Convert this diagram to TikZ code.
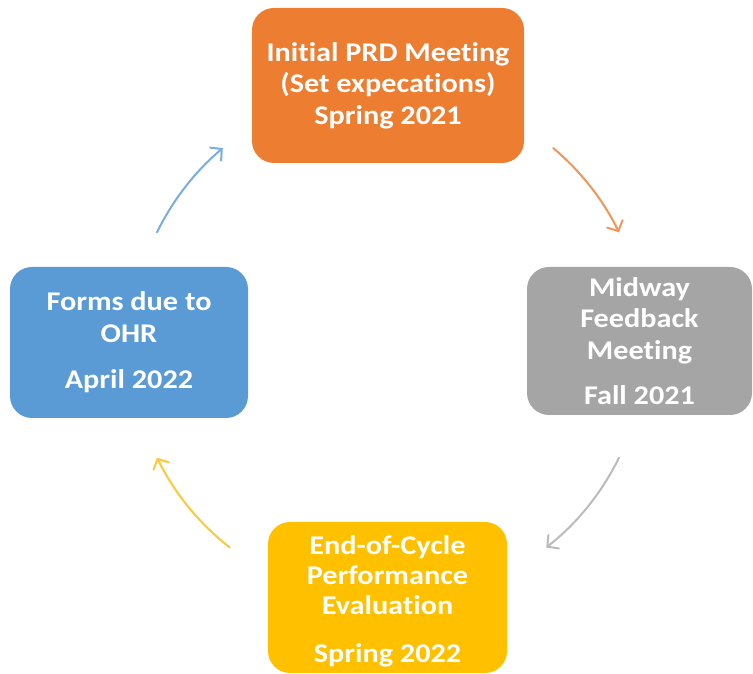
\documentclass[tikz,border=0pt]{standalone}
\usepackage{fontspec}
\setmainfont{Carlito}[Ligatures=NoCommon, FakeStretch=1.12]
\usetikzlibrary{arrows.meta}
\definecolor{boxorange}{HTML}{ED7D31}
\definecolor{boxgray}{HTML}{A5A5A5}
\definecolor{boxyellow}{HTML}{FFC000}
\definecolor{boxblue}{HTML}{5B9BD5}
\definecolor{arrorange}{HTML}{F2955A}
\definecolor{arrgray}{HTML}{BBBBBB}
\definecolor{arryellow}{HTML}{FFC83A}
\definecolor{arrblue}{HTML}{78ADDD}
\begin{document}
\begin{tikzpicture}[x=1pt,y=1pt,
  stage/.style={rounded corners=22pt, text=white, align=center, inner sep=0pt,
    font=\fontsize{27}{31.5}\selectfont\bfseries},
  cyc/.style={line width=2pt, line cap=round,
    -{Straight Barb[length=8pt,width=17pt,line cap=round]}}]
\useasboundingbox (0,0) rectangle (753,674);

% the four stages of the review cycle
\node[stage, fill=boxorange, minimum width=272pt, minimum height=155pt] (prd) at (388,588.5)
  {Initial PRD Meeting\\(Set expecations)\\Spring 2021};
\node[stage, fill=boxgray, minimum width=225pt, minimum height=148pt] (mid) at (639.5,333)
  {Midway\\Feedback\\Meeting\\[14pt]Fall 2021};
\node[stage, fill=boxyellow, minimum width=239pt, minimum height=151pt,
  font=\fontsize{27}{30}\selectfont\bfseries] (eoc) at (387.5,76.5)
  {\rule{0pt}{27pt}End-of-Cycle\\Performance\\Evaluation\\[18pt]Spring 2022};
\node[stage, fill=boxblue, minimum width=238pt, minimum height=151pt] (ohr) at (129,331.5)
  {Forms due to\\OHR\\[15pt]April 2022};

% clockwise arrows on a common circle
\coordinate (hub) at (388,329);
\coordinate (a1) at ([shift={(50:257pt)}]hub);
\coordinate (a2) at ([shift={(-26:257pt)}]hub);
\coordinate (a3) at ([shift={(-128:257pt)}]hub);
\coordinate (a4) at ([shift={(154:257pt)}]hub);
\draw[cyc, arrorange] (a1) arc[start angle=50, end angle=26, radius=257pt];
\draw[cyc, arrgray] (a2) arc[start angle=-26, end angle=-52, radius=257pt];
\draw[cyc, arryellow] (a3) arc[start angle=-128, end angle=-154, radius=257pt];
\draw[cyc, arrblue] (a4) arc[start angle=154, end angle=130, radius=257pt];
\end{tikzpicture}
\end{document}
